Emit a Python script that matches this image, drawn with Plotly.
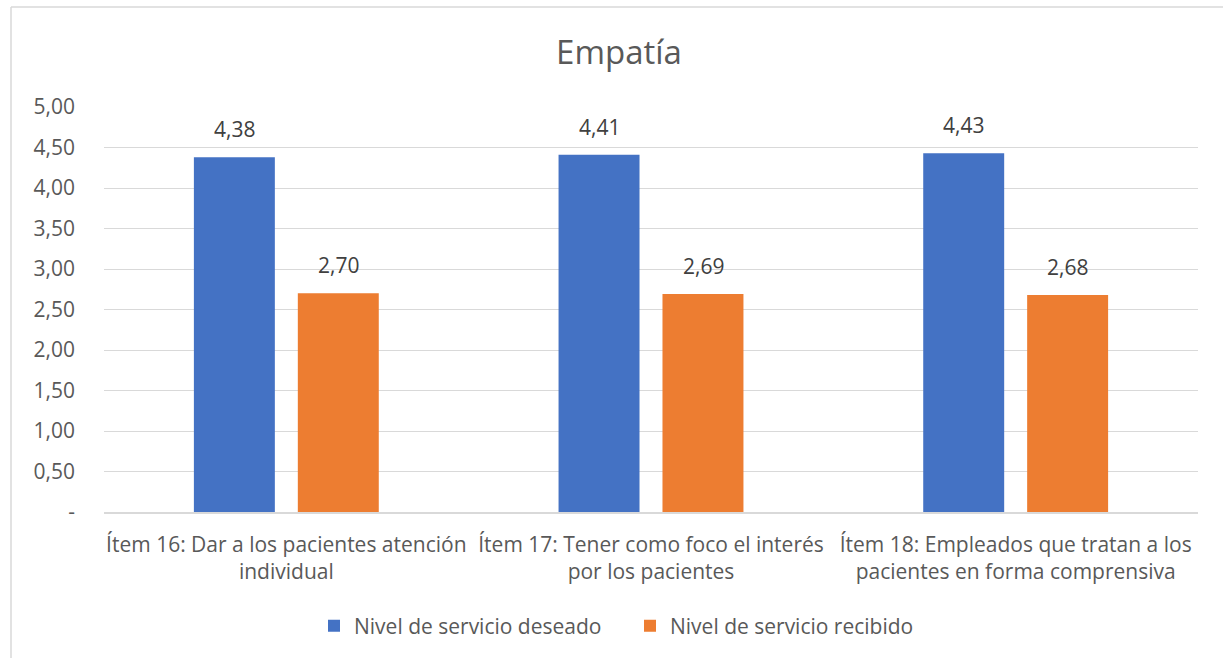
import plotly.graph_objects as go

categories = ["Ítem 16: Dar a los pacientes atención<br>individual",
              "Ítem 17: Tener como foco el interés<br>por los pacientes",
              "Ítem 18: Empleados que tratan a los<br>pacientes en forma comprensiva"]
series_names = ["Nivel de servicio deseado", "Nivel de servicio recibido"]
deseado = [4.38, 4.41, 4.43]
recibido = [2.70, 2.69, 2.68]
colors = ["#4472C4", "#ED7D31"]
y_tickvals = [0, 0.5, 1.0, 1.5, 2.0, 2.5, 3.0, 3.5, 4.0, 4.5, 5.0]
y_ticktext = ["-", "0,50", "1,00", "1,50", "2,00", "2,50", "3,00", "3,50", "4,00", "4,50", "5,00"]

def fmt(v):
    return f"{v:.2f}".replace(".", ",")

FONT = "Open Sans"
GREY = "#595959"
FS = 21

W, H = 1223, 658
L, R, T, B = 104, 25, 107, 146
pw, ph = W - L - R, H - T - B
bx0 = (11 - L) / pw
by0 = 1 + (T - 7) / ph
BAR_OFFSET = 52  # px from category centre to each bar centre

fig = go.Figure()
annotations = []
for i, (name, vals, col) in enumerate(zip(series_names, [deseado, recibido], colors)):
    fig.add_trace(go.Bar(x=categories, y=vals, name=name, marker_color=col,
                         marker_line_width=0))
    shift = -BAR_OFFSET if i == 0 else BAR_OFFSET
    for c, v in zip(categories, vals):
        annotations.append(dict(x=c, y=v, xref="x", yref="y", text=fmt(v),
                                showarrow=False, xshift=shift, yshift=12,
                                yanchor="bottom", xanchor="center",
                                font=dict(family=FONT, size=FS, color="#404040")))

fig.update_layout(
    width=W, height=H,
    margin=dict(l=L, r=R, t=T, b=B),
    paper_bgcolor="white", plot_bgcolor="white",
    barmode="group", bargap=0.430, bargroupgap=0.221,
    title=dict(text="Empatía", x=619 / W, xref="container", xanchor="center",
               y=1 - 52 / H, yref="container", yanchor="middle",
               font=dict(family=FONT, size=33, color=GREY)),
    font=dict(family=FONT, color=GREY),
    legend=dict(orientation="h", x=(314 - L) / pw, xanchor="left", y=-(626 - 512) / ph,
                yanchor="middle", font=dict(family=FONT, size=FS, color=GREY),
                itemwidth=30, traceorder="normal", entrywidth=271),
    showlegend=True,
    annotations=annotations,
    shapes=[
        dict(type="line", xref="paper", yref="paper", x0=bx0, x1=1.05, y0=by0, y1=by0,
             line=dict(color="#D9D9D9", width=1.5)),
        dict(type="line", xref="paper", yref="paper", x0=bx0, x1=bx0, y0=by0, y1=-0.5,
             line=dict(color="#D9D9D9", width=1.5)),
    ],
)
fig.update_yaxes(range=[0, 5], tickvals=y_tickvals, ticktext=y_ticktext,
                 showgrid=True, gridcolor="#D9D9D9", gridwidth=1,
                 zeroline=False, showline=False, ticks="",
                 ticklabelstandoff=28,
                 tickfont=dict(family=FONT, size=FS, color=GREY))
fig.update_xaxes(showline=True, linecolor="#D9D9D9", linewidth=1.5, ticks="",
                 ticklabelstandoff=13,
                 tickfont=dict(family=FONT, size=FS, color=GREY))

fig.write_html("out.html")
